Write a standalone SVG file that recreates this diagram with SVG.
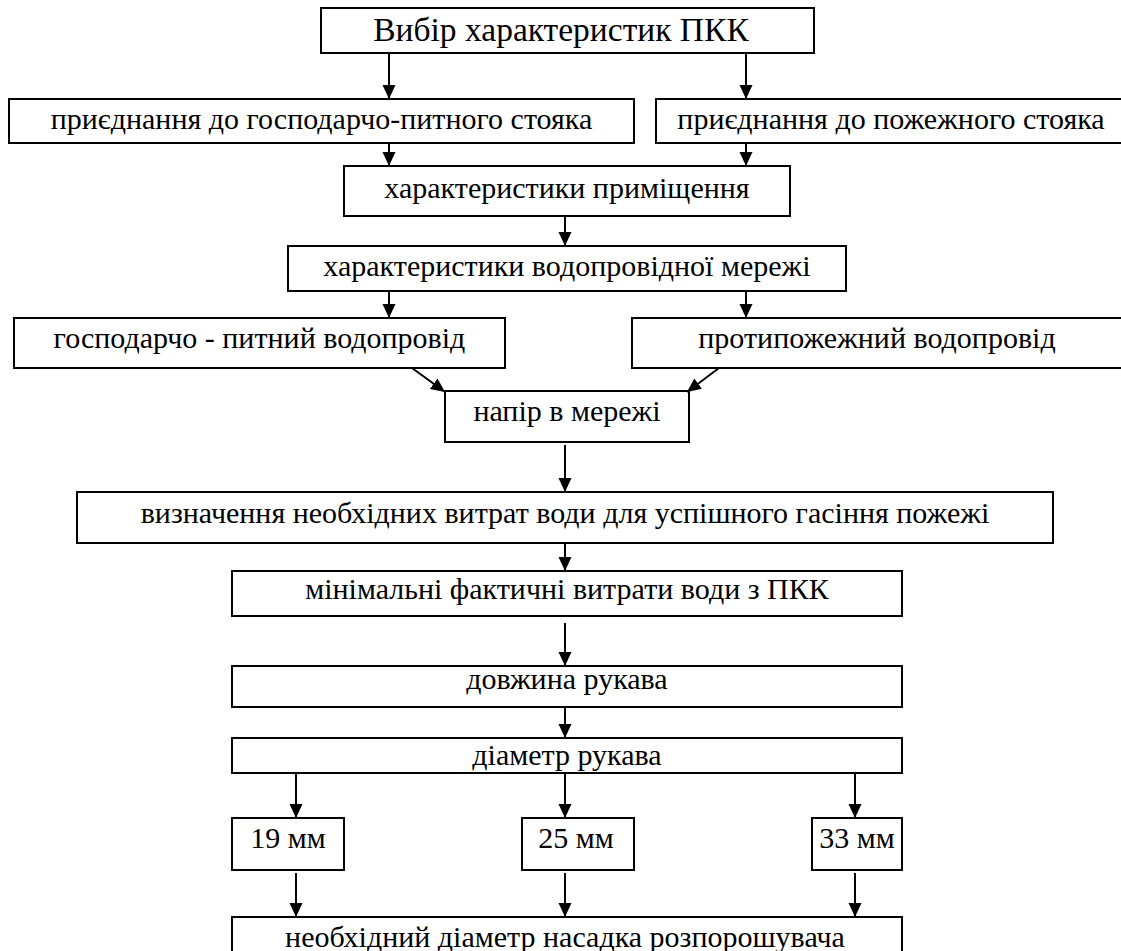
<svg xmlns="http://www.w3.org/2000/svg" width="1121" height="951" viewBox="0 0 1121 951">
<style>
rect{fill:#fff;stroke:#000;stroke-width:2}
text{font-family:"Liberation Serif","Times New Roman",serif;font-size:30px;fill:#000;text-anchor:middle}
.t{font-size:33.5px}
.c line{stroke:#000;stroke-width:2;marker-end:url(#ah)}
</style>
<defs>
<marker id="ah" markerUnits="userSpaceOnUse" markerWidth="14" markerHeight="14" refX="14" refY="6.5" orient="auto" viewBox="0 0 14 13">
<path d="M0,0 L14,6.5 L0,13 z" fill="#000"/>
</marker>
</defs>
<rect x="0" y="0" width="1121" height="951" style="stroke:none"/>
<g id="n1"><rect x="321" y="8" width="493" height="45"/><text class="t" x="561" y="41">Вибір характеристик ПКК</text></g>
<g id="n2a"><rect x="9" y="99" width="625" height="44"/><text x="321.5" y="129">приєднання до господарчо-питного стояка</text></g>
<g id="n2b"><rect x="656" y="99" width="475" height="44"/><text x="891" y="129">приєднання до пожежного стояка</text></g>
<g id="n3"><rect x="344" y="166" width="446" height="50"/><text x="567" y="198">характеристики приміщення</text></g>
<g id="n4"><rect x="288" y="246" width="558" height="45"/><text x="567" y="276">характеристики водопровідної мережі</text></g>
<g id="n5a"><rect x="14" y="318" width="491" height="50"/><text x="259.5" y="348">господарчо - питний водопровід</text></g>
<g id="n5b"><rect x="632" y="318" width="500" height="50"/><text x="877" y="348">протипожежний водопровід</text></g>
<g id="n6"><rect x="445" y="391" width="244" height="51"/><text x="567" y="421">напір в мережі</text></g>
<g id="n7"><rect x="77" y="492" width="976" height="51"/><text x="565" y="523">визначення необхідних витрат води для успішного гасіння пожежі</text></g>
<g id="n8"><rect x="232" y="571" width="670" height="45"/><text x="567" y="599">мінімальні фактичні витрати води з ПКК</text></g>
<g id="n9"><rect x="232" y="666" width="670" height="41"/><text x="567" y="689">довжина рукава</text></g>
<g id="n10"><rect x="232" y="738" width="670" height="35"/><text x="567" y="765">діаметр рукава</text></g>
<g id="n11a"><rect x="232" y="818" width="112" height="52"/><text x="288" y="848">19 мм</text></g>
<g id="n11b"><rect x="522" y="818" width="112" height="52"/><text x="576" y="848">25 мм</text></g>
<g id="n11c"><rect x="812" y="818" width="90" height="52"/><text x="857" y="848">33 мм</text></g>
<g id="n12"><rect x="232" y="917" width="670" height="50"/><text x="565" y="947">необхідний діаметр насадка розпорошувача</text></g>
<g id="connectors" class="c">
<line x1="389" y1="53" x2="389" y2="99"/>
<line x1="746" y1="53" x2="746" y2="99"/>
<line x1="389" y1="143" x2="389" y2="166"/>
<line x1="746" y1="143" x2="746" y2="166"/>
<line x1="565" y1="216" x2="565" y2="246"/>
<line x1="389" y1="291" x2="389" y2="318"/>
<line x1="746" y1="291" x2="746" y2="318"/>
<line x1="412" y1="368" x2="445" y2="392"/>
<line x1="719" y1="368" x2="687" y2="392"/>
<line x1="565" y1="445" x2="565" y2="492"/>
<line x1="565" y1="543" x2="565" y2="571"/>
<line x1="565" y1="623" x2="565" y2="666"/>
<line x1="565" y1="707" x2="565" y2="738"/>
<line x1="296" y1="773" x2="296" y2="818"/>
<line x1="565" y1="773" x2="565" y2="818"/>
<line x1="855" y1="773" x2="855" y2="818"/>
<line x1="296" y1="873" x2="296" y2="917"/>
<line x1="565" y1="873" x2="565" y2="917"/>
<line x1="855" y1="873" x2="855" y2="917"/>
</g>
</svg>
